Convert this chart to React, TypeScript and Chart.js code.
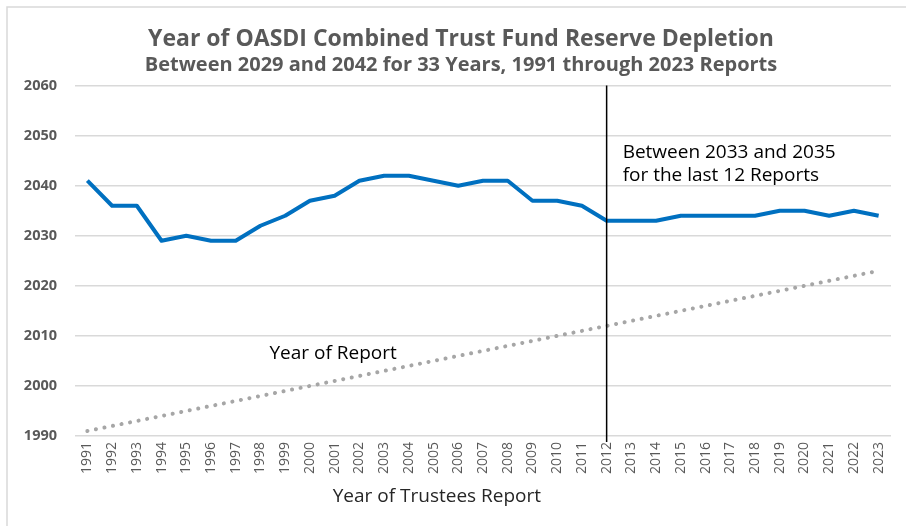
import React, { useEffect, useRef } from "react";
import { Chart, registerables } from "chart.js";

Chart.register(...registerables);

const reportYears: string[] = [
  "1991","1992","1993","1994","1995","1996","1997","1998","1999","2000",
  "2001","2002","2003","2004","2005","2006","2007","2008","2009","2010",
  "2011","2012","2013","2014","2015","2016","2017","2018","2019","2020",
  "2021","2022","2023",
];

const depletionYear: number[] = [
  2041, 2036, 2036, 2029, 2030, 2029, 2029, 2032, 2034, 2037,
  2038, 2041, 2042, 2042, 2041, 2040, 2041, 2041, 2037, 2037,
  2036, 2033, 2033, 2033, 2034, 2034, 2034, 2034, 2035, 2035,
  2034, 2035, 2034,
];

const yearOfReport: number[] = reportYears.map((y) => Number(y));

const titleText = "Year of OASDI Combined Trust Fund Reserve Depletion";
const subtitleText = "Between 2029 and 2042 for 33 Years, 1991 through 2023 Reports";
const xTitle = "Year of Trustees Report";
const markerYear = "2012";
const noteLines = ["Between 2033 and 2035", "for the last 12 Reports"];
const seriesNote = "Year of Report";

const FONT = "'Open Sans', Lato, sans-serif";
const TITLE_SIZE = 23;
const SUB_SIZE = 20;
const TITLE_TOP = 26;

const overlayPlugin = {
  id: "overlay",
  beforeDraw(chart: any) {
    const ctx = chart.ctx;
    ctx.save();
    ctx.strokeStyle = "#d9d9d9";
    ctx.lineWidth = 1.5;
    ctx.strokeRect(7, 7, chart.width + 20, chart.height + 20);
    ctx.restore();
  },
  afterDraw(chart: any) {
    const ctx = chart.ctx;
    const xs = chart.scales.x;
    const ys = chart.scales.y;
    const area = chart.chartArea;
    const idx = reportYears.indexOf(markerYear);
    const px = xs.getPixelForValue(idx);
    ctx.save();
    ctx.strokeStyle = "#000000";
    ctx.lineWidth = 1.5;
    ctx.beginPath();
    ctx.moveTo(px, area.top);
    ctx.lineTo(px, area.bottom + 6);
    ctx.stroke();

    ctx.fillStyle = "#000000";
    ctx.font = `19px ${FONT}`;
    ctx.textAlign = "left";
    ctx.textBaseline = "middle";
    ctx.fillText(noteLines[0], px + 16, ys.getPixelForValue(2046.6));
    ctx.fillText(noteLines[1], px + 16, ys.getPixelForValue(2042.0));

    const nx = xs.getPixelForValue(reportYears.indexOf("1998")) + 9;
    ctx.fillText(seriesNote, nx, ys.getPixelForValue(2006.4));

    // x-axis title, centred where the reference places it
    ctx.fillStyle = "#262626";
    ctx.textAlign = "center";
    const tx = (xs.getPixelForValue(reportYears.indexOf("2005")) + xs.getPixelForValue(reportYears.indexOf("2006"))) / 2 - 9;
    ctx.fillText(xTitle, tx, area.bottom + 61);

    // title and subtitle, centred slightly right of the canvas centre as in the reference
    const cx = chart.width / 2 + 8;
    ctx.fillStyle = "#595959";
    ctx.font = `bold ${TITLE_SIZE}px ${FONT}`;
    ctx.fillText(titleText, cx, TITLE_TOP + (TITLE_SIZE * 1.2) / 2);
    ctx.font = `bold ${SUB_SIZE}px ${FONT}`;
    ctx.fillText(subtitleText, cx, TITLE_TOP + TITLE_SIZE * 1.2 + (SUB_SIZE * 1.2) / 2);
    ctx.restore();
  },
};

export default function App() {
  const ref = useRef<HTMLCanvasElement | null>(null);
  useEffect(() => {
    if (!ref.current) return;
    const chart = new Chart(ref.current, {
      type: "line",
      data: {
        labels: reportYears,
        datasets: [
          {
            label: "Depletion",
            data: depletionYear,
            borderColor: "#0070C0",
            borderWidth: 4,
            pointRadius: 0,
            tension: 0,
            borderJoinStyle: "round",
          },
          {
            label: "Year of Report",
            data: yearOfReport,
            borderColor: "#a6a6a6",
            borderWidth: 4,
            borderDash: [0.1, 8.6],
            borderCapStyle: "round",
            pointRadius: 0,
            tension: 0,
          },
        ],
      },
      options: {
        animation: false,
        responsive: false,
        layout: { padding: { left: 0, right: 15, top: 0, bottom: 18 } },
        plugins: {
          legend: { display: false },
          tooltip: { enabled: false },
          title: {
            display: true,
            text: titleText,
            color: "rgba(0,0,0,0)",
            font: { family: FONT, size: TITLE_SIZE, weight: "bold" },
            padding: { top: TITLE_TOP, bottom: 0 },
          },
          subtitle: {
            display: true,
            text: subtitleText,
            color: "rgba(0,0,0,0)",
            font: { family: FONT, size: SUB_SIZE, weight: "bold" },
            padding: { top: 0, bottom: 8 },
          },
        },
        scales: {
          x: {
            offset: true,
            grid: { display: false, drawTicks: false },
            border: { display: false },
            ticks: {
              color: "#595959",
              font: { family: FONT, size: 14 },
              minRotation: 90,
              maxRotation: 90,
              autoSkip: false,
              padding: 6,
            },
            afterFit(scale: any) {
              scale.height = 72;
            },
          },
          y: {
            min: 1990,
            max: 2060,
            ticks: {
              stepSize: 10,
              color: "#595959",
              font: { family: FONT, size: 14.5, weight: "bold" },
              padding: 18,
              callback: (v: any) => String(v),
            },
            grid: { color: "#d9d9d9", lineWidth: 1.5, drawTicks: false },
            border: { display: false },
            afterFit(scale: any) {
              scale.width = 75;
            },
          },
        },
      },
      plugins: [overlayPlugin],
    });
    return () => chart.destroy();
  }, []);
  return (
    <div style={{ position: "absolute", left: 0, top: 0, width: 906, height: 526, background: "#fff" }}>
      <canvas ref={ref} width={906} height={526} />
    </div>
  );
}
